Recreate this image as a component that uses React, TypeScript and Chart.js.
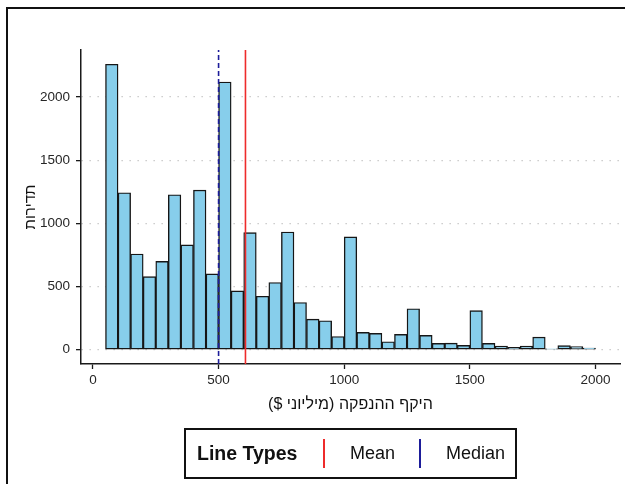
import React, { useEffect, useRef } from 'react';
import { Chart, registerables } from 'chart.js';

Chart.register(...registerables);

// Histogram bins (start of each 50-wide bin) and counts
const binStarts = [
  50, 100, 150, 200, 250, 300, 350, 400, 450, 500,
  550, 600, 650, 700, 750, 800, 850, 900, 950, 1000,
  1050, 1100, 1150, 1200, 1250, 1300, 1350, 1400, 1450, 1500,
  1550, 1600, 1650, 1700, 1750, 1800, 1850, 1900, 1950,
];
const binWidth = 50;
const counts = [
  2260, 1243, 758, 579, 700, 1227, 830, 1264, 600, 2120,
  466, 927, 423, 532, 932, 374, 242, 229, 105, 893,
  137, 129, 63, 121, 324, 113, 50, 52, 34, 310,
  50, 28, 18, 28, 100, 8, 32, 24, 13,
];
const meanValue = 607;
const medianValue = 500;

const xTicks = [0, 500, 1000, 1500, 2000];
const yTicks = [0, 500, 1000, 1500, 2000];
const xRange = [-47.5, 2097.5];
const yRange = [-113, 2373];

const xTitle = 'היקף ההנפקה (מיליוני $)';
const yTitle = 'תדירות';
const legendTitle = 'Line Types';
const legendLabels = ['Mean', 'Median'];
const legendColors = ['#ee2b2b', '#1d1d9a'];

const FONT = '"Liberation Sans", Arial, Helvetica, sans-serif';

if (typeof document !== 'undefined') {
  document.documentElement.style.overflow = 'hidden';
  document.body.style.overflow = 'hidden';
}

export default function App() {
  const canvasRef = useRef<HTMLCanvasElement | null>(null);

  useEffect(() => {
    const canvas = canvasRef.current;
    if (!canvas) return;
    const chart = new Chart(canvas, {
      type: 'bar',
      data: {
        datasets: [
          {
            type: 'line',
            label: legendLabels[0],
            data: [
              { x: meanValue, y: yRange[0] },
              { x: meanValue, y: yRange[1] },
            ],
            borderColor: legendColors[0],
            borderWidth: 1.6,
            pointRadius: 0,
            order: 0,
          } as any,
          {
            type: 'line',
            label: legendLabels[1],
            data: [
              { x: medianValue, y: yRange[0] },
              { x: medianValue, y: yRange[1] },
            ],
            borderColor: legendColors[1],
            borderWidth: 1.6,
            borderDash: [5, 3],
            pointRadius: 0,
            order: 1,
          } as any,
          {
            type: 'bar',
            label: 'count',
            data: binStarts.map((s, i) => ({ x: s + binWidth / 2, y: counts[i] })),
            backgroundColor: '#87CEEB',
            borderColor: '#161616',
            borderWidth: 1.4,
            borderSkipped: false,
            barPercentage: 1,
            categoryPercentage: 1,
            grouped: false,
            order: 2,
          } as any,
        ],
      },
      options: {
        responsive: false,
        animation: false,
        devicePixelRatio: 1,
        layout: { padding: { top: 42, right: 5, left: 0, bottom: 0 } },
        plugins: {
          legend: { display: false },
          tooltip: { enabled: false },
        },
        scales: {
          x: {
            type: 'linear',
            min: xRange[0],
            max: xRange[1],
            offset: false,
            afterBuildTicks: (s: any) => {
              s.ticks = xTicks.map((v) => ({ value: v }));
            },
            afterFit: (s: any) => {
              s.height = 60;
            },
            grid: {
              display: true,
              drawOnChartArea: false,
              drawTicks: true,
              tickLength: 5,
              tickColor: '#1a1a1a',
              tickWidth: 1.3,
              offset: false,
            },
            border: { display: true, color: '#1a1a1a', width: 1.5 },
            ticks: {
              font: { family: FONT, size: 13.5 },
              color: '#262626',
              padding: 3,
              maxRotation: 0,
              autoSkip: false,
              callback: (v: any) => String(v),
            },
            title: {
              display: true,
              text: xTitle,
              font: { family: FONT, size: 16 },
              color: '#111111',
              padding: { top: 4, bottom: 10 },
            },
          },
          y: {
            type: 'linear',
            min: yRange[0],
            max: yRange[1],
            afterBuildTicks: (s: any) => {
              s.ticks = yTicks.map((v) => ({ value: v }));
            },
            afterFit: (s: any) => {
              s.width = 73;
            },
            grid: {
              display: true,
              drawOnChartArea: true,
              drawTicks: true,
              color: '#c2c2c2',
              lineWidth: 1.3,
              tickLength: 5,
              tickColor: '#1a1a1a',
              tickWidth: 1.3,
              tickBorderDash: [],
            },
            border: { display: true, color: '#1a1a1a', width: 1.5, dash: [1.3, 6.7] },
            ticks: {
              font: { family: FONT, size: 13.5 },
              color: '#262626',
              padding: 6,
              autoSkip: false,
              callback: (v: any) => String(v),
            },
            title: {
              display: true,
              text: yTitle,
              font: { family: FONT, size: 15 },
              color: '#111111',
              padding: { top: 14, bottom: 4 },
            },
          },
        },
      } as any,
    });
    return () => chart.destroy();
  }, []);

  const lineBox = 29;
  const innerH = 47;

  return (
    <div style={{ position: 'relative', width: 609, height: 460 }}>
      <div
        style={{
          position: 'fixed',
          left: 6,
          top: 7,
          right: 0,
          bottom: 0,
          boxSizing: 'border-box',
          borderTop: '2px solid #111',
          borderLeft: '2px solid #111',
          pointerEvents: 'none',
        }}
      />
      <canvas
        ref={canvasRef}
        width={617}
        height={416}
        style={{ position: 'fixed', left: 8, top: 8, width: 617, height: 416, direction: 'rtl' }}
      />
      <div
        style={{
          position: 'fixed',
          left: 184,
          top: 428,
          width: 333,
          height: 51,
          boxSizing: 'border-box',
          border: '2px solid #111',
          fontFamily: FONT,
          color: '#111',
        }}
      >
        <span
          style={{
            position: 'absolute',
            left: 11,
            top: 0,
            height: innerH,
            lineHeight: innerH + 'px',
            fontWeight: 'bold',
            fontSize: 19.5,
            whiteSpace: 'nowrap',
          }}
        >
          {legendTitle}
        </span>
        {legendLabels.map((lab, i) => (
          <React.Fragment key={lab}>
            <div
              style={{
                position: 'absolute',
                left: i === 0 ? 137 : 233,
                top: (innerH - lineBox) / 2,
                width: 2,
                height: lineBox,
                background: legendColors[i],
              }}
            />
            <span
              style={{
                position: 'absolute',
                left: i === 0 ? 164 : 260,
                top: 0,
                height: innerH,
                lineHeight: innerH + 'px',
                fontSize: 18,
                whiteSpace: 'nowrap',
              }}
            >
              {lab}
            </span>
          </React.Fragment>
        ))}
      </div>
    </div>
  );
}
